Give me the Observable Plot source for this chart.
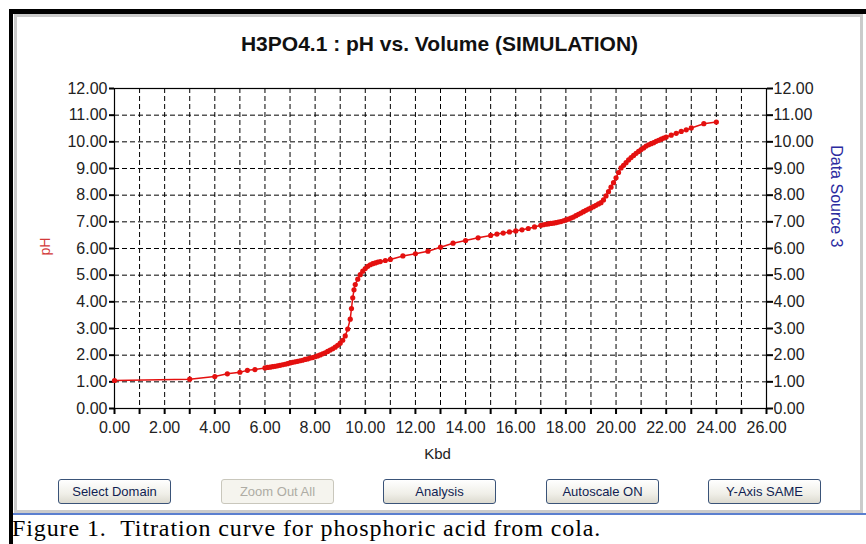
<!DOCTYPE html>
<html>
<head>
<meta charset="utf-8">
<script src="https://cdn.jsdelivr.net/npm/d3@7"></script>
<script src="https://cdn.jsdelivr.net/npm/@observablehq/plot@0.6"></script>
<style>
  html, body { margin: 0; padding: 0; }
  body { width: 866px; height: 544px; overflow: hidden; background: white; position: relative; font-family: "Liberation Sans", Arial, sans-serif; }
  .abs { position: absolute; }
  .btn { position: absolute; top: 479px; width: 111px; height: 23px; border: 1px solid #3a5378; border-radius: 3px;
         background: linear-gradient(#ffffff, #f0efe8 60%, #dcdad0); font: 13px "Liberation Sans", Arial, sans-serif;
         color: #101e52; text-align: center; line-height: 23px; box-sizing: content-box; }
  .btn.dis { border-color: #c9c7bc; background: #f5f4ee; color: #aeaca4; }
  #chart { position: absolute; left: 0; top: 0; }
</style>
</head>
<body>
<div class="abs" style="left:9px; top:9px; width:4px; height:535px; background:#000"></div>
<div class="abs" style="left:9px; top:9px; width:857px; height:5px; background:#000"></div>
<div class="abs" style="left:14px; top:14px; width:843px; height:493px; border:3px solid #cbcbcb; background:#fff"></div>
<div class="abs" style="left:13px; top:513px; width:853px; height:2px; background:#5b7fcf"></div>
<div class="abs" style="left:12px; top:515px; font: 24px 'Liberation Serif', 'Times New Roman', serif; white-space: pre; letter-spacing: 0.9px; color:#000; line-height:27px">Figure 1.  Titration curve for phosphoric acid from cola.</div>
<div id="chart"></div>
<div id="buttons"></div>
<script>
// ---- data ----
const volume = [0, 3, 4, 4.5, 5, 5.3, 5.6,
  6.0, 6.1, 6.2, 6.3, 6.4, 6.5, 6.6, 6.7, 6.8, 6.9,
  7.0, 7.1, 7.2, 7.3, 7.4, 7.5, 7.6, 7.7, 7.8, 7.9,
  8.0, 8.1, 8.2, 8.3, 8.4, 8.5, 8.6, 8.7, 8.8, 8.9,
  9.0, 9.1, 9.2, 9.3, 9.4, 9.45, 9.5, 9.55, 9.6, 9.7, 9.8, 9.9,
  10.0, 10.1, 10.2, 10.3, 10.4, 10.5, 10.6, 10.8, 11.0,
  11.5, 12.0, 12.5, 13.0, 13.5, 14.0, 14.5, 15.0,
  15.25, 15.5, 15.75, 16.0, 16.25, 16.5, 16.75,
  17.0, 17.1, 17.2, 17.3, 17.4, 17.5, 17.6, 17.7, 17.8, 17.9,
  18.0, 18.1, 18.2, 18.3, 18.4, 18.5, 18.6, 18.7, 18.8, 18.9,
  19.0, 19.1, 19.2, 19.3, 19.4, 19.5, 19.6, 19.7, 19.8, 19.9,
  20.0, 20.1, 20.2, 20.3, 20.4, 20.5, 20.6, 20.7, 20.8, 20.9,
  21.0, 21.1, 21.2, 21.3, 21.4, 21.5, 21.6, 21.7, 21.8, 21.9,
  22.0, 22.2, 22.4, 22.6, 22.8, 23.0, 23.5, 24.0];
const pH = [1.05, 1.10, 1.20, 1.30, 1.36, 1.43, 1.46,
  1.52, 1.54, 1.55, 1.57, 1.58, 1.60, 1.62, 1.64, 1.66, 1.68,
  1.71, 1.73, 1.75, 1.77, 1.79, 1.81, 1.84, 1.86, 1.89, 1.91,
  1.94, 1.97, 2.01, 2.05, 2.09, 2.14, 2.19, 2.24, 2.30, 2.37,
  2.45, 2.56, 2.72, 2.98, 3.35, 3.75, 4.15, 4.45, 4.65, 4.85, 5.02, 5.15,
  5.25, 5.33, 5.39, 5.43, 5.46, 5.49, 5.51, 5.55, 5.59,
  5.72, 5.80, 5.90, 6.05, 6.20, 6.30, 6.40, 6.49,
  6.54, 6.58, 6.62, 6.66, 6.70, 6.75, 6.81,
  6.87, 6.89, 6.91, 6.92, 6.94, 6.95, 6.97, 6.99, 7.01, 7.04,
  7.07, 7.10, 7.14, 7.18, 7.23, 7.28, 7.33, 7.38, 7.43, 7.48,
  7.52, 7.57, 7.62, 7.67, 7.72, 7.82, 7.97, 8.13, 8.30, 8.47,
  8.65, 8.85, 9.02, 9.12, 9.22, 9.32, 9.41, 9.49, 9.57, 9.64,
  9.71, 9.77, 9.84, 9.89, 9.93, 9.97, 10.02, 10.06, 10.10, 10.14,
  10.18, 10.25, 10.32, 10.39, 10.45, 10.52, 10.68, 10.74];

const xGrid = [0,1,2,3,4,5,6,7,8,9,10,11,12,13,14,15,16,17,18,19,20,21,22,23,24,25,26];
const xTickLabels = [0,2,4,6,8,10,12,14,16,18,20,22,24,26];
const yTicks = [0,1,2,3,4,5,6,7,8,9,10,11,12];
const buttonLabels = ["Select Domain", "Zoom Out All", "Analysis", "Autoscale ON", "Y-Axis SAME"];
const buttonDisabled = [false, true, false, false, false];

const titleText = "H3PO4.1 : pH vs. Volume (SIMULATION)";
const xLabel = "Kbd";
const yLabel = "pH";
const y2Label = "Data Source 3";

const data = volume.map((v, i) => ({volume: v, pH: pH[i]}));
const fmt = d => d.toFixed(2);
const red = "#e4100f";

const chart = Plot.plot({
  width: 866,
  height: 544,
  marginLeft: 114,
  marginRight: 100,
  marginTop: 88,
  marginBottom: 136,
  style: {background: "transparent", overflow: "visible", fontFamily: "'Liberation Sans', Arial, sans-serif"},
  x: {domain: [0, 26]},
  y: {domain: [0, 12]},
  marks: [
    Plot.gridX(xGrid, {stroke: "#000", strokeOpacity: 1, strokeDasharray: "5,3"}),
    Plot.gridY(yTicks, {stroke: "#000", strokeOpacity: 1, strokeDasharray: "5,3"}),
    Plot.axisX(xGrid, {tickSize: 6, strokeWidth: 2, text: null, label: null}),
    Plot.axisX(xTickLabels, {tickSize: 0, tickPadding: 13, tickFormat: fmt, fontSize: 16, fill: "#222", label: null}),
    Plot.axisY(yTicks, {anchor: "left", tickSize: 5, strokeWidth: 2, tickPadding: 2, tickFormat: fmt, fontSize: 16, fill: "#222", label: null}),
    Plot.axisY(yTicks, {anchor: "right", tickSize: 6, strokeWidth: 2, tickPadding: 1, tickFormat: fmt, fontSize: 16, fill: "#222", label: null}),
    Plot.frame({stroke: "#000", strokeWidth: 1.2}),
    Plot.line(data, {x: "volume", y: "pH", stroke: red, strokeWidth: 1.5}),
    Plot.dot(data, {x: "volume", y: "pH", r: 2.6, fill: red, stroke: "none"}),
    Plot.text([titleText], {frameAnchor: "top", dy: -52, dx: -1, fontSize: 21, fontWeight: "bold", fill: "#111"}),
    Plot.text([xLabel], {frameAnchor: "bottom", dy: 50, dx: -3, fontSize: 15, fill: "#222"}),
    Plot.text([yLabel], {frameAnchor: "left", dx: -69, dy: 7, rotate: -90, fontSize: 14, fill: "#d23a3a"}),
    Plot.text([y2Label], {frameAnchor: "right", dx: 70, dy: -1, rotate: 90, fontSize: 16, fill: "#2b2ba0"})
  ]
});
document.getElementById("chart").appendChild(chart);

const btnLeft = [58, 221, 383, 546, 708];
const holder = document.getElementById("buttons");
buttonLabels.forEach((t, i) => {
  const b = document.createElement("div");
  b.className = "btn" + (buttonDisabled[i] ? " dis" : "");
  b.style.left = btnLeft[i] + "px";
  b.textContent = t;
  holder.appendChild(b);
});
</script>
</body>
</html>
